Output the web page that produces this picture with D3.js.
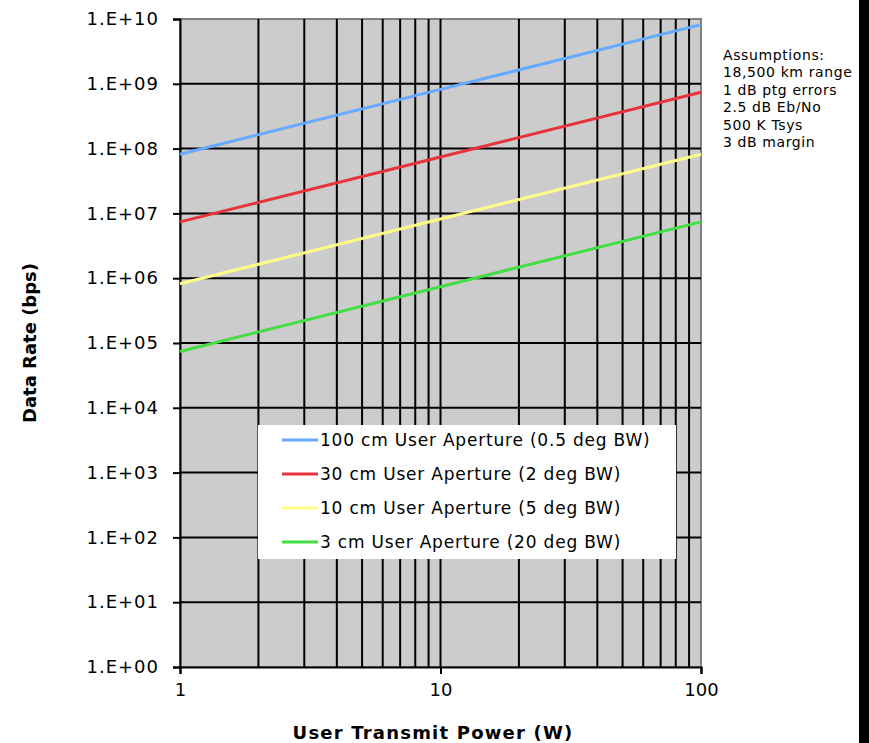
<!DOCTYPE html>
<html>
<head>
<meta charset="utf-8">
<script src="https://cdn.jsdelivr.net/npm/d3@7"></script>
<style>
  body { margin: 0; background: #fff; }
  text { font-family: "DejaVu Sans", Verdana, sans-serif; }
</style>
</head>
<body>
<svg id="chart" width="869" height="743"></svg>
<script>
// data
const power = [1, 10, 100];
const rate100cm = [8.2e7, 8.2e8, 8.2e9];
const rate30cm = [7.4e6, 7.4e7, 7.4e8];
const rate10cm = [8.2e5, 8.2e6, 8.2e7];
const rate3cm = [7.4e4, 7.4e5, 7.4e6];
const seriesNames = [
  "100 cm User Aperture (0.5 deg BW)",
  "30 cm User Aperture (2 deg BW)",
  "10 cm User Aperture (5 deg BW)",
  "3 cm User Aperture (20 deg BW)"
];
const seriesColors = ["#66aaff", "#e8323c", "#ffff88", "#44dd44"];
const yTickLabels = ["1.E+00", "1.E+01", "1.E+02", "1.E+03", "1.E+04", "1.E+05",
                     "1.E+06", "1.E+07", "1.E+08", "1.E+09", "1.E+10"];
const assumptions = ["Assumptions:", "18,500 km range", "1 dB ptg errors",
                     "2.5 dB Eb/No", "500 K Tsys", "3 dB margin"];

const svg = d3.select("#chart"),
      width = +svg.attr("width"),
      height = +svg.attr("height");

const pLeft = 180, pRight = 701, pTop = 19, pBottom = 667;

const x = d3.scaleLog().domain([1, 100]).range([pLeft, pRight]);
const y = d3.scaleLog().domain([1, 1e10]).range([pBottom, pTop]);

// black strip at the right edge
svg.append("rect")
    .attr("x", 859).attr("y", 0)
    .attr("width", width - 859).attr("height", height)
    .attr("fill", "#000");

// plot background
svg.append("rect")
    .attr("x", pLeft).attr("y", pTop)
    .attr("width", pRight - pLeft).attr("height", pBottom - pTop)
    .attr("fill", "#cccccc")
    .attr("stroke", "#808080")
    .attr("stroke-width", 2);

// vertical grid at every log tick
const xGridVals = x.ticks().filter(d => d > 1 && d < 100);
svg.append("g")
  .selectAll("line")
  .data(xGridVals)
  .enter()
  .append("line")
    .attr("x1", d => x(d)).attr("x2", d => x(d))
    .attr("y1", pTop).attr("y2", pBottom)
    .attr("stroke", "#000")
    .attr("stroke-width", 2);

// horizontal grid at each decade
const yDecades = d3.range(0, 11).map(e => Math.pow(10, e));
svg.append("g")
  .selectAll("line")
  .data(yDecades.slice(1, -1))
  .enter()
  .append("line")
    .attr("x1", pLeft).attr("x2", pRight)
    .attr("y1", d => y(d)).attr("y2", d => y(d))
    .attr("stroke", "#000")
    .attr("stroke-width", 2);

// y axis
const yAxis = d3.axisLeft(y)
    .tickValues(yDecades)
    .tickFormat((d, i) => yTickLabels[i])
    .tickSize(7)
    .tickPadding(14);
const gy = svg.append("g")
    .attr("transform", `translate(${pLeft},0)`)
    .call(yAxis);
gy.select(".domain").attr("stroke", "#000").attr("stroke-width", 2);
gy.selectAll(".tick line").attr("stroke", "#000").attr("stroke-width", 2);
gy.selectAll(".tick text")
    .attr("fill", "#000")
    .style("font-size", "18px")
    .style("letter-spacing", "1px")
    .style("font-family", "DejaVu Sans, Verdana, sans-serif");

// x axis
const xAxis = d3.axisBottom(x)
    .tickValues([1, 10, 100])
    .tickFormat(d3.format("d"))
    .tickSize(7)
    .tickPadding(9);
const gx = svg.append("g")
    .attr("transform", `translate(0,${pBottom})`)
    .call(xAxis);
gx.select(".domain").attr("stroke", "#000").attr("stroke-width", 2);
gx.selectAll(".tick line").attr("stroke", "#000").attr("stroke-width", 2);
gx.selectAll(".tick text")
    .attr("fill", "#000")
    .style("font-size", "18px")
    .style("font-family", "DejaVu Sans, Verdana, sans-serif");

// data lines
const allRates = [rate100cm, rate30cm, rate10cm, rate3cm];
const line = d3.line()
    .x(d => x(d[0]))
    .y(d => y(d[1]));

svg.append("g")
  .selectAll("path")
  .data(allRates)
  .enter()
  .append("path")
    .attr("d", d => line(d.map((v, i) => [power[i], v])))
    .attr("fill", "none")
    .attr("stroke", (d, i) => seriesColors[i])
    .attr("stroke-width", 3);

// legend
const legend = svg.append("g");
legend.append("rect")
    .attr("x", 258).attr("y", 425)
    .attr("width", 418).attr("height", 134)
    .attr("fill", "#fff");

const rowY = [440, 474, 508, 542];
legend.selectAll("line")
  .data(seriesNames)
  .enter()
  .append("line")
    .attr("x1", 282).attr("x2", 318)
    .attr("y1", (d, i) => rowY[i]).attr("y2", (d, i) => rowY[i])
    .attr("stroke", (d, i) => seriesColors[i])
    .attr("stroke-width", 3);

legend.selectAll("text")
  .data(seriesNames)
  .enter()
  .append("text")
    .attr("x", 320)
    .attr("y", (d, i) => rowY[i])
    .attr("dy", "0.35em")
    .style("font-size", "17px")
    .style("letter-spacing", "0.8px")
    .attr("fill", "#000")
    .text(d => d);

// assumptions note
svg.append("g")
  .selectAll("text")
  .data(assumptions)
  .enter()
  .append("text")
    .attr("x", 723)
    .attr("y", (d, i) => 55 + i * 17.4)
    .attr("dy", "0.35em")
    .style("font-size", "14px")
    .style("letter-spacing", "0.6px")
    .attr("fill", "#000")
    .text(d => d);

// axis titles
svg.append("text")
    .attr("transform", `translate(30,${(pTop + pBottom) / 2}) rotate(-90)`)
    .attr("text-anchor", "middle")
    .attr("dy", "0.35em")
    .style("font-size", "18px")
    .style("font-weight", "bold")
    .text("Data Rate (bps)");

svg.append("text")
    .attr("x", 433)
    .attr("y", 733)
    .attr("text-anchor", "middle")
    .attr("dy", "0.35em")
    .style("font-size", "18px")
    .style("font-weight", "bold")
    .style("letter-spacing", "1.2px")
    .text("User Transmit Power (W)");
</script>
</body>
</html>
